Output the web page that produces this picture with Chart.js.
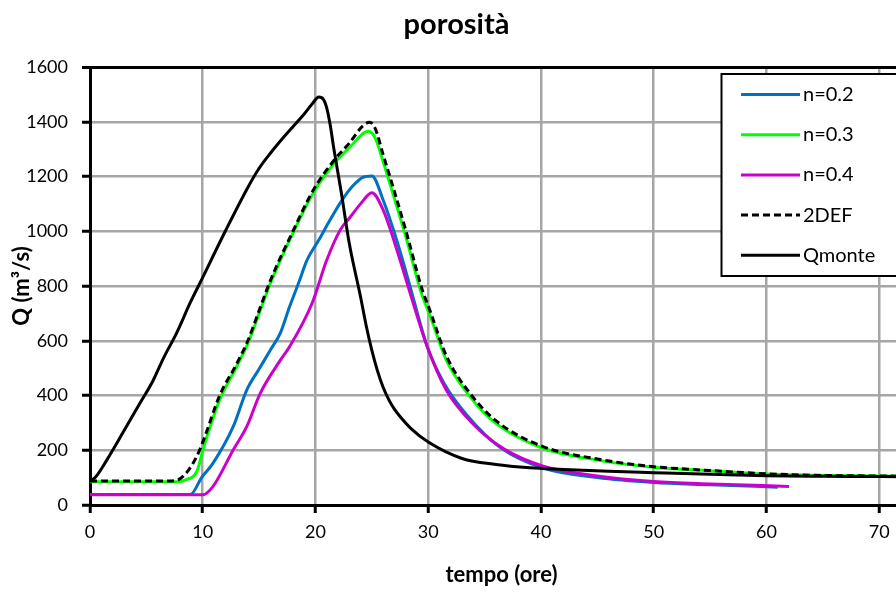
<!DOCTYPE html>
<html>
<head>
<meta charset="utf-8">
<title>porosità</title>
<script src="https://cdn.jsdelivr.net/npm/chart.js@4"></script>
<style>
  html, body { margin: 0; padding: 0; background: #fff; overflow: hidden; }
  #wrap { position: relative; width: 920px; height: 592px; }
</style>
</head>
<body>
<div id="wrap"><canvas id="porosityChart"></canvas></div>
<script>
// tempo (ore) / Q (m3/s) for each run
const tN2 = [0, 8.9, 9.9, 10.9, 12.7, 13.9, 15, 16, 16.9, 17.7, 18.6, 19.2, 20.4, 21, 22.3, 23.3, 24.2, 25, 26, 27.2, 28.4, 29.9, 31.4, 33.4, 36.4, 40.2, 45, 50, 55, 61];
const qN2 = [38, 38, 100, 152, 286, 420, 497, 566, 630, 724, 822, 890, 975, 1020, 1110, 1165, 1197, 1202, 1114, 968, 797, 580, 445, 330, 210, 135, 100, 82, 74, 65];

const tN3 = [0, 7.7, 8.5, 9.5, 10.1, 11.5, 13, 14, 15, 16, 18, 19.8, 21.7, 23, 24.7, 25.3, 26, 27, 28.1, 29.4, 30.2, 31.6, 33.7, 36, 40, 45, 50, 55, 60, 65, 70, 73];
const qN3 = [85, 85, 92, 125, 213, 384, 505, 590, 700, 810, 993, 1140, 1250, 1305, 1365, 1340, 1255, 1120, 968, 773, 688, 530, 396, 298, 210, 164, 138, 125, 113, 108, 106, 105];

const tN4 = [0, 10, 10.9, 12.7, 13.9, 15.1, 16.9, 17.7, 19.7, 21, 22.2, 23.1, 24, 25, 26, 27.5, 28.4, 29.9, 31.6, 34, 36.7, 40.2, 45, 50, 55, 62];
const qN4 = [37, 37, 67, 201, 286, 408, 530, 578, 737, 895, 1005, 1053, 1100, 1141, 1078, 895, 773, 580, 420, 295, 205, 142, 106, 86, 77, 68];

const tDef = [0, 7, 7.8, 8.6, 9.5, 10.1, 11.5, 13, 14, 15, 16, 18, 19.8, 21.7, 23, 24.2, 24.8, 25.3, 26, 27, 28.1, 29.4, 30.2, 31.6, 33.7, 36, 40, 45, 50, 55, 60, 65, 70, 73];
const qDef = [88, 88, 92, 120, 180, 240, 400, 515, 600, 710, 820, 1000, 1150, 1262, 1322, 1385, 1398, 1375, 1280, 1145, 990, 795, 705, 545, 408, 308, 216, 168, 140, 126, 114, 108, 106, 105];

const tMonte = [0, 0.4, 1.5, 3, 4.4, 5.6, 6.5, 7.7, 8.9, 9.8, 12, 14, 15, 16, 17, 18, 19, 19.7, 20.3, 20.7, 21, 21.3, 21.6, 22.3, 23, 24, 24.5, 25, 25.5, 26, 26.5, 27, 27.5, 28.5, 30, 33, 36, 39, 42, 46, 50, 55, 60, 65, 70, 73];
const qMonte = [90, 98, 165, 270, 370, 455, 535, 630, 740, 815, 1000, 1160, 1230, 1285, 1335, 1382, 1428, 1465, 1490, 1482, 1450, 1390, 1309, 1139, 955, 760, 655, 565, 490, 430, 385, 350, 323, 278, 230, 170, 148, 136, 130, 123, 118, 112, 107, 105, 104, 103];

const seriesNames = ['n=0.2', 'n=0.3', 'n=0.4', '2DEF', 'Qmonte'];
const xTicks = { min: 0, max: 73, step: 10 };
const yTicks = { min: 0, max: 1600, step: 200 };

function toPoints(t, q) {
    return t.map((x, i) => ({ x: x, y: q[i] }));
}

const FONT = 'Lato, "Open Sans", sans-serif';
const GRID = '#a6a6a6';

// legend box drawn over the plot, top right
const legendInside = {
    id: 'legendInside',
    afterDraw(chart) {
        const ctx = chart.ctx;
        const box = { left: 721.5, top: 74, width: 186, height: 202 };
        ctx.save();
        ctx.fillStyle = '#fff';
        ctx.fillRect(box.left, box.top, box.width, box.height);
        ctx.lineWidth = 2;
        ctx.strokeStyle = '#000';
        ctx.strokeRect(box.left, box.top, box.width, box.height);
        ctx.font = '20px ' + FONT;
        ctx.textBaseline = 'middle';
        ctx.textAlign = 'left';
        chart.data.datasets.forEach((ds, i) => {
            const y = 94.5 + i * 40.2;
            ctx.beginPath();
            ctx.lineWidth = ds.borderWidth;
            ctx.strokeStyle = ds.borderColor;
            ctx.setLineDash(ds.borderDash || []);
            ctx.moveTo(741, y);
            ctx.lineTo(800, y);
            ctx.stroke();
            ctx.setLineDash([]);
            ctx.fillStyle = '#000';
            ctx.fillText(ds.label, 803, y);
        });
        ctx.restore();
    }
};

const ctx = document.getElementById('porosityChart').getContext('2d');
const porosityChart = new Chart(ctx, {
    type: 'line',
    data: {
        datasets: [
            { label: seriesNames[0], data: toPoints(tN2, qN2), borderColor: '#0070c0', borderWidth: 3, order: 4 },
            { label: seriesNames[1], data: toPoints(tN3, qN3), borderColor: '#00ff00', borderWidth: 3, order: 3 },
            { label: seriesNames[2], data: toPoints(tN4, qN4), borderColor: '#cc00cc', borderWidth: 3, order: 2 },
            { label: seriesNames[3], data: toPoints(tDef, qDef), borderColor: '#000000', borderWidth: 3, borderDash: [7, 4], order: 1 },
            { label: seriesNames[4], data: toPoints(tMonte, qMonte), borderColor: '#000000', borderWidth: 3, order: 0 }
        ]
    },
    options: {
        responsive: true,
        maintainAspectRatio: false,
        animation: false,
        events: [],
        layout: { padding: { left: 0, right: 7, top: 0, bottom: 0 } },
        elements: {
            point: { radius: 0 },
            line: { cubicInterpolationMode: 'monotone', fill: false }
        },
        plugins: {
            legend: { display: false },
            tooltip: { enabled: false },
            title: {
                display: true,
                text: 'porosità',
                color: '#000',
                font: { family: FONT, size: 29, weight: 'bold', lineHeight: 1.2 },
                padding: { top: 7.6, bottom: 24.6 }
            }
        },
        scales: {
            x: {
                type: 'linear',
                min: xTicks.min,
                max: xTicks.max,
                afterFit(scale) { scale.height = 87; },
                ticks: {
                    stepSize: xTicks.step,
                    includeBounds: false,
                    color: '#000',
                    padding: 8,
                    font: { family: FONT, size: 18 }
                },
                grid: { color: GRID, lineWidth: 2.5, tickColor: '#000', tickWidth: 3, tickLength: 8 },
                border: { color: '#000', width: 3 },
                title: {
                    display: true,
                    text: 'tempo (ore)',
                    color: '#000',
                    font: { family: FONT, size: 22, weight: 'bold', lineHeight: 1.2 },
                    padding: { top: 0, bottom: 4 }
                }
            },
            y: {
                min: yTicks.min,
                max: yTicks.max,
                afterFit(scale) { scale.width = 90; },
                ticks: {
                    stepSize: yTicks.step,
                    color: '#000',
                    padding: 14,
                    font: { family: FONT, size: 18 },
                    callback: v => String(v)
                },
                grid: {
                    color: c => (c.tick && c.tick.value === yTicks.max ? '#000' : GRID),
                    lineWidth: c => (c.tick && c.tick.value === yTicks.max ? 3 : 2.5),
                    tickColor: '#000',
                    tickWidth: 3,
                    tickLength: 8
                },
                border: { color: '#000', width: 3 },
                title: {
                    display: true,
                    text: 'Q (m³/s)',
                    color: '#000',
                    font: { family: FONT, size: 22, weight: 'bold', lineHeight: 1.2 },
                    padding: { top: 9, bottom: 0 }
                }
            }
        }
    },
    plugins: [legendInside]
});
</script>
</body>
</html>
